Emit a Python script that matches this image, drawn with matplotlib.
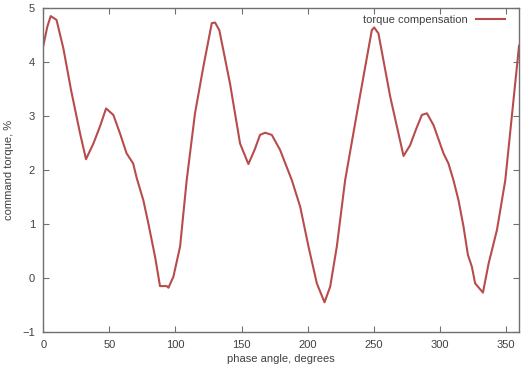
import matplotlib
matplotlib.use('Agg')
import matplotlib.pyplot as plt

# phase angle (degrees) and command torque (%)
phase_angle = [0, 3, 5.6, 10, 15.2, 21, 27.8, 32.3, 37.9, 42.8, 47.5, 53, 58, 63, 68,
               70.7, 75.7, 79.5, 84.6, 88.3, 93.4, 94.7, 98.4, 103.5, 108.5, 114.8,
               121.1, 127.5, 130, 133.2, 141.3, 148.9, 155.2, 160, 164, 167.9, 172.9,
               179.2, 188.1, 194.4, 200.7, 207, 212.8, 217.1, 222.1, 228.4, 237.3,
               243.6, 248.6, 250.4, 253.6, 262.5, 272.6, 277.6, 282, 286.5, 290.3,
               295.3, 302.8, 306.6, 310.4, 314.2, 318, 321.3, 324.3, 326.8, 332.7,
               337, 343.3, 349.6, 355, 360]
torque = [4.3, 4.65, 4.85, 4.78, 4.25, 3.48, 2.68, 2.2, 2.49, 2.8, 3.14, 3.02, 2.68,
          2.31, 2.12, 1.85, 1.44, 1.01, 0.39, -0.15, -0.15, -0.18, 0.02, 0.58, 1.81,
          3.05, 3.91, 4.72, 4.73, 4.59, 3.6, 2.49, 2.11, 2.38, 2.65, 2.69, 2.65, 2.37,
          1.81, 1.32, 0.58, -0.1, -0.45, -0.16, 0.58, 1.81, 3.05, 3.91, 4.59, 4.64,
          4.53, 3.36, 2.26, 2.46, 2.75, 3.02, 3.05, 2.83, 2.31, 2.12, 1.81, 1.44, 0.95,
          0.43, 0.21, -0.1, -0.27, 0.27, 0.89, 1.81, 3.1, 4.3]

x_ticks = [0, 50, 100, 150, 200, 250, 300, 350]
y_ticks = [-1, 0, 1, 2, 3, 4, 5]

plt.rcParams['font.family'] = ['Liberation Sans', 'DejaVu Sans']
text_col = '#404040'
axis_col = '#707070'

fig = plt.figure(figsize=(5.23, 3.67), dpi=100)
ax = fig.add_axes([0.0828, 0.0954, 0.9096, 0.8828])

ax.plot(phase_angle, torque, color='#b84c4c', linewidth=1.5, label='torque compensation')

ax.set_xlim(0, 360)
ax.set_ylim(-1, 5)
ax.set_xticks(x_ticks)
ax.set_yticks(y_ticks)
ax.tick_params(direction='in', length=4, width=0.8, colors=axis_col,
               labelcolor=text_col, labelsize=8, top=True, right=True, pad=6)
for s in ax.spines.values():
    s.set_color(axis_col)
    s.set_linewidth(1.0)

ax.set_xlabel('phase angle, degrees', fontsize=8, color=text_col, labelpad=3)
ax.set_ylabel('command torque, %', fontsize=8, color=text_col, labelpad=6)

ax.legend(loc='upper right', frameon=False, markerfirst=False, fontsize=8,
          handlelength=2.6, borderaxespad=0.2, labelcolor=text_col,
          bbox_to_anchor=(0.985, 1.0))

fig.savefig('out.png', dpi=100)
